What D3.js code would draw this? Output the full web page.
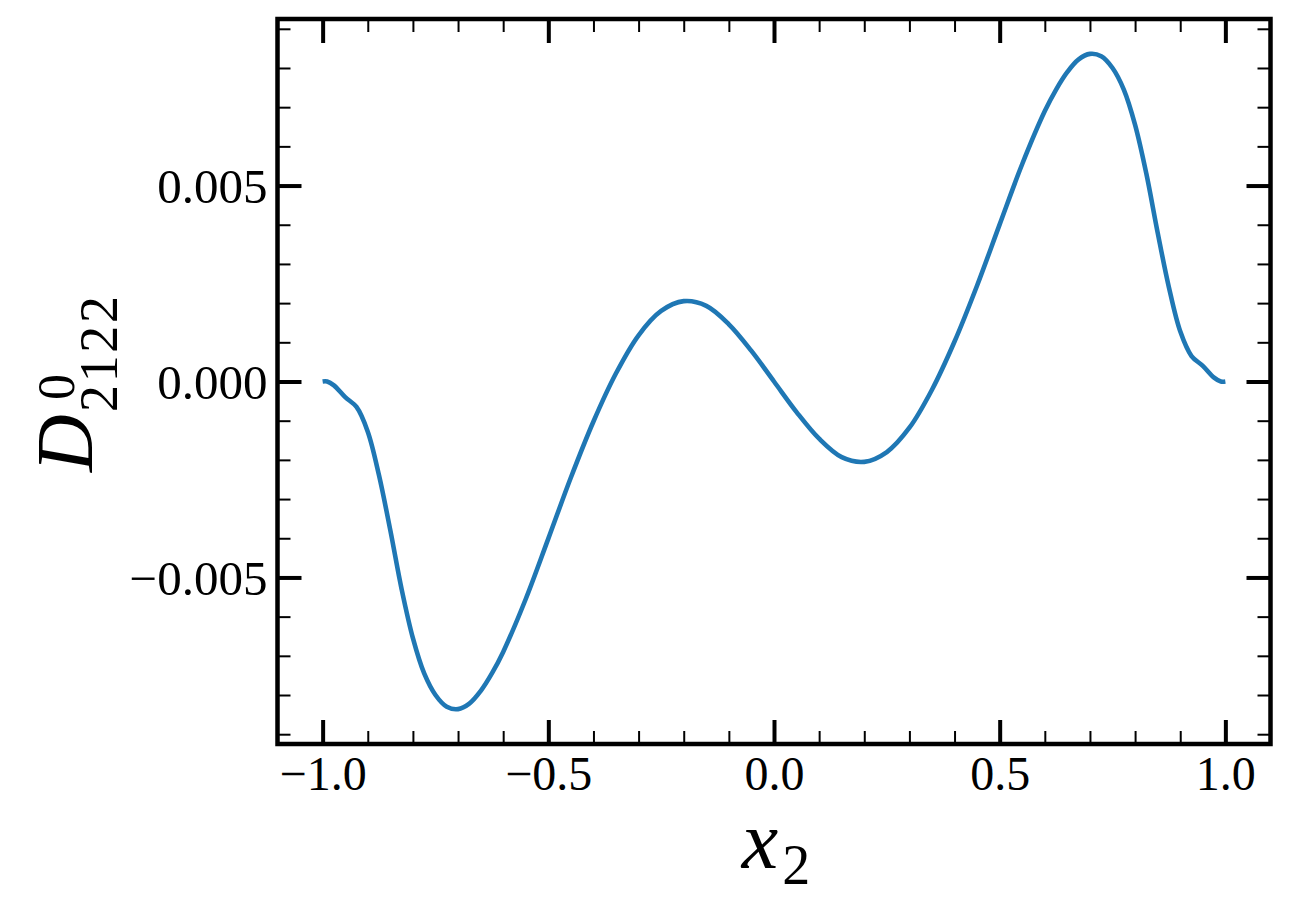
<!DOCTYPE html>
<html>
<head>
<meta charset="utf-8">
<script src="https://cdn.jsdelivr.net/npm/d3@7"></script>
<style>
  body { margin: 0; background: #fff; }
  svg { display: block; }
  text { font-family: "Liberation Serif", "Times New Roman", serif; fill: #000; }
</style>
</head>
<body>
<svg width="1290" height="908"></svg>
<script>
// curve
const xVals = [-1.0, -0.99, -0.975, -0.95, -0.925, -0.9, -0.875, -0.85, -0.825, -0.8, -0.775, -0.75, -0.725, -0.7, -0.675, -0.65, -0.625, -0.6,
  -0.55, -0.5, -0.45, -0.4, -0.35, -0.3, -0.25, -0.2, -0.15, -0.1, -0.05, 0.0,
  0.05, 0.1, 0.15, 0.2, 0.25, 0.3, 0.35, 0.4, 0.45, 0.5, 0.55, 0.6, 0.625, 0.65, 0.675, 0.7,
  0.725, 0.75, 0.775, 0.8, 0.825, 0.85, 0.875, 0.9, 0.925, 0.95, 0.975, 0.99, 1.0];
const dVals = [0.0, 0.0, -0.0001, -0.0004, -0.00065, -0.00128, -0.0024, -0.0038, -0.0053, -0.00655, -0.00745, -0.008, -0.0083, -0.00836, -0.00822, -0.0079, -0.00745, -0.0069,
  -0.00555, -0.00401, -0.00245, -0.00102, 0.00021, 0.00118, 0.0018, 0.00205, 0.00193, 0.00146, 0.00078, 0.0,
  -0.00078, -0.00146, -0.00193, -0.00205, -0.0018, -0.00118, -0.00021, 0.00102, 0.00245, 0.00401, 0.00555, 0.0069, 0.00745, 0.0079, 0.00822, 0.00836,
  0.0083, 0.008, 0.00745, 0.00655, 0.0053, 0.0038, 0.0024, 0.00128, 0.00065, 0.0004, 0.0001, 0.0, 0.0];

const xMajor = [-1.0, -0.5, 0.0, 0.5, 1.0];
const yMajor = [-0.005, 0.0, 0.005];

const lineColor = "#1f77b4";

const svg = d3.select("svg");
const plot = {left: 277.5, right: 1270.5, top: 19, bottom: 744};

let x = d3.scaleLinear().domain([-1.1, 1.1]).range([plot.left, plot.right]);
let y = d3.scaleLinear().domain([-0.00925, 0.00925]).range([plot.bottom, plot.top]);

const xMinor = d3.range(-10, 11).map(d => d / 10);
const yMinor = d3.range(-9, 10).map(d => d / 1000);

// the curve
let line = d3.line()
    .x(d => x(d[0]))
    .y(d => y(d[1]))
    .curve(d3.curveCatmullRom);

svg.append("path")
    .datum(d3.zip(xVals, dVals))
    .attr("fill", "none")
    .attr("stroke", lineColor)
    .attr("stroke-width", 4.6)
    .attr("stroke-linejoin", "round")
    .attr("d", line);

// ticks, all pointing inward
function drawAxis(axis, tr, major) {
    let g = svg.append("g").attr("transform", tr).call(axis);
    g.select(".domain").remove();
    g.selectAll(".tick line")
        .attr("stroke", "#000")
        .attr("stroke-width", major ? 4 : 2);
    return g;
}

drawAxis(d3.axisBottom(x).tickValues(xMinor).tickSize(-13).tickFormat(""), "translate(0," + plot.bottom + ")", false);
drawAxis(d3.axisTop(x).tickValues(xMinor).tickSize(-13).tickFormat(""), "translate(0," + plot.top + ")", false);
drawAxis(d3.axisLeft(y).tickValues(yMinor).tickSize(-13).tickFormat(""), "translate(" + plot.left + ",0)", false);
drawAxis(d3.axisRight(y).tickValues(yMinor).tickSize(-13).tickFormat(""), "translate(" + plot.right + ",0)", false);

drawAxis(d3.axisTop(x).tickValues(xMajor).tickSize(-24).tickFormat(""), "translate(0," + plot.top + ")", true);
drawAxis(d3.axisRight(y).tickValues(yMajor).tickSize(-24).tickFormat(""), "translate(" + plot.right + ",0)", true);

let xAxis = drawAxis(d3.axisBottom(x).tickValues(xMajor).tickSize(-24).tickPadding(0).tickFormat(d3.format(".1f")),
    "translate(0," + plot.bottom + ")", true);
xAxis.selectAll(".tick text")
    .attr("y", 46)
    .attr("dy", null)
    .attr("font-family", null)
    .style("font-size", "48px");

let yAxis = drawAxis(d3.axisLeft(y).tickValues(yMajor).tickSize(-24).tickPadding(0).tickFormat(d3.format(".3f")),
    "translate(" + plot.left + ",0)", true);
yAxis.selectAll(".tick text")
    .attr("x", -10)
    .attr("dy", 17)
    .attr("font-family", null)
    .style("font-size", "49px");

// frame
svg.append("rect")
    .attr("x", plot.left).attr("y", plot.top)
    .attr("width", plot.right - plot.left).attr("height", plot.bottom - plot.top)
    .attr("fill", "none")
    .attr("stroke", "#000")
    .attr("stroke-width", 4.5);

// x label: x_2
let xl = svg.append("text")
    .attr("x", 776)
    .attr("y", 868)
    .attr("text-anchor", "middle");
xl.append("tspan").attr("font-style", "italic").style("font-size", "82px").text("x");
xl.append("tspan").attr("dy", 16).attr("dx", 4).style("font-size", "56px").text("2");

// y label: D^0_2122
let yl = svg.append("g").attr("transform", "translate(92,472) rotate(-90)");
yl.append("text")
    .attr("x", 0).attr("y", 0)
    .attr("font-style", "italic")
    .style("font-size", "80px")
    .text("D");
yl.append("text")
    .attr("x", 72).attr("y", -18)
    .style("font-size", "52px")
    .text("0");
yl.append("text")
    .attr("x", 60).attr("y", 25)
    .attr("textLength", 116)
    .attr("lengthAdjust", "spacing")
    .style("font-size", "54px")
    .text("2122");
</script>
</body>
</html>
